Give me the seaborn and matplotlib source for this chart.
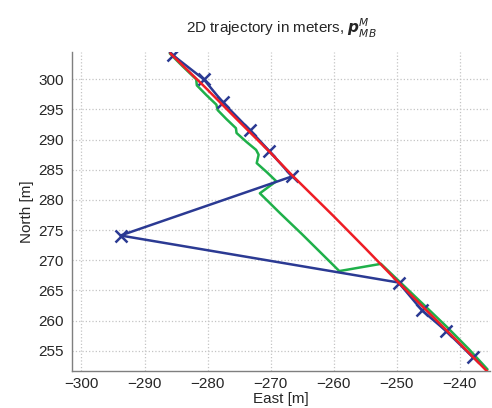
import numpy as np
import pandas as pd
import seaborn as sns
import matplotlib.pyplot as plt
from matplotlib import ticker

# waypoints (blue, with x markers)
wp_east = [-285.5, -280.6, -277.6, -273.3, -270.2, -266.6, -293.8, -249.7, -246.0, -242.2, -237.9]
wp_north = [304.0, 300.0, 296.2, 291.6, 288.1, 283.9, 274.1, 266.3, 261.7, 258.3, 253.9]

# estimated trajectory (green)
est_east = [-286.0, -284.0, -281.8, -281.7, -280.2, -278.6, -278.4, -277.0, -275.5, -275.4,
            -273.8, -272.3, -271.9, -272.2, -270.6, -269.1, -271.7, -268.5, -265.0, -262.0,
            -259.1, -252.5, -249.6, -246.0, -242.0, -238.5, -235.6]
est_north = [304.3, 302.2, 300.0, 299.0, 297.4, 295.8, 294.9, 293.4, 291.9, 291.1,
             289.6, 288.3, 287.5, 286.1, 284.6, 283.1, 281.1, 277.8, 274.3, 271.2,
             268.2, 269.4, 266.5, 262.9, 258.9, 255.2, 251.9]

# true trajectory (red)
true_east = [-285.9, -280.5, -275.0, -270.0, -266.6, -260.0, -255.0, -250.0, -245.0, -240.0, -235.4]
true_north = [304.3, 298.8, 293.0, 287.8, 284.1, 277.3, 272.0, 266.6, 261.4, 256.2, 251.3]

sns.set_style("white")
plt.rcParams['font.family'] = ['Liberation Sans', 'DejaVu Sans']

fig = plt.figure(figsize=(4.92, 4.08), dpi=100)
ax = fig.add_axes([72 / 492, 37 / 408, (490 - 72) / 492, (371 - 51.7) / 408])

blue = '#2b3a93'
green = '#1fb04a'
red = '#ee1d25'

sns.lineplot(x=est_east, y=est_north, sort=False, estimator=None, color=green, lw=1.8, ax=ax, zorder=3)
sns.lineplot(x=wp_east, y=wp_north, sort=False, estimator=None, color=blue, lw=1.8, ax=ax, zorder=4)
ax.plot(wp_east, wp_north, ls='none', marker='x', ms=9, mew=1.8, color=blue, zorder=4)
sns.lineplot(x=true_east, y=true_north, sort=False, estimator=None, color=red, lw=1.8, ax=ax, zorder=5)

ax.set_xlim(-301.5, -235.2)
ax.set_ylim(251.63, 304.58)
ax.xaxis.set_major_locator(ticker.MultipleLocator(10))
ax.yaxis.set_major_locator(ticker.MultipleLocator(5))

ax.grid(True, ls=':', color='#c4c4c4', lw=0.9)
for s in ['top', 'right']:
    ax.spines[s].set_visible(False)
for s in ['left', 'bottom']:
    ax.spines[s].set_color('#7f7f7f')
    ax.spines[s].set_linewidth(1.0)
ax.tick_params(axis='y', direction='out', length=3, width=1, color='black', labelsize=11, pad=3)
ax.tick_params(axis='x', direction='in', length=3, width=1, color='black', labelsize=11, pad=4)

ax.set_xlabel('East [m]', fontsize=11, labelpad=1)
ax.set_ylabel('North [m]', fontsize=11, labelpad=3)
ax.set_title(r'2D trajectory in meters, $\boldsymbol{p}_{MB}^{M}$', fontsize=11, pad=13)

plt.savefig('out.png', dpi=100)
